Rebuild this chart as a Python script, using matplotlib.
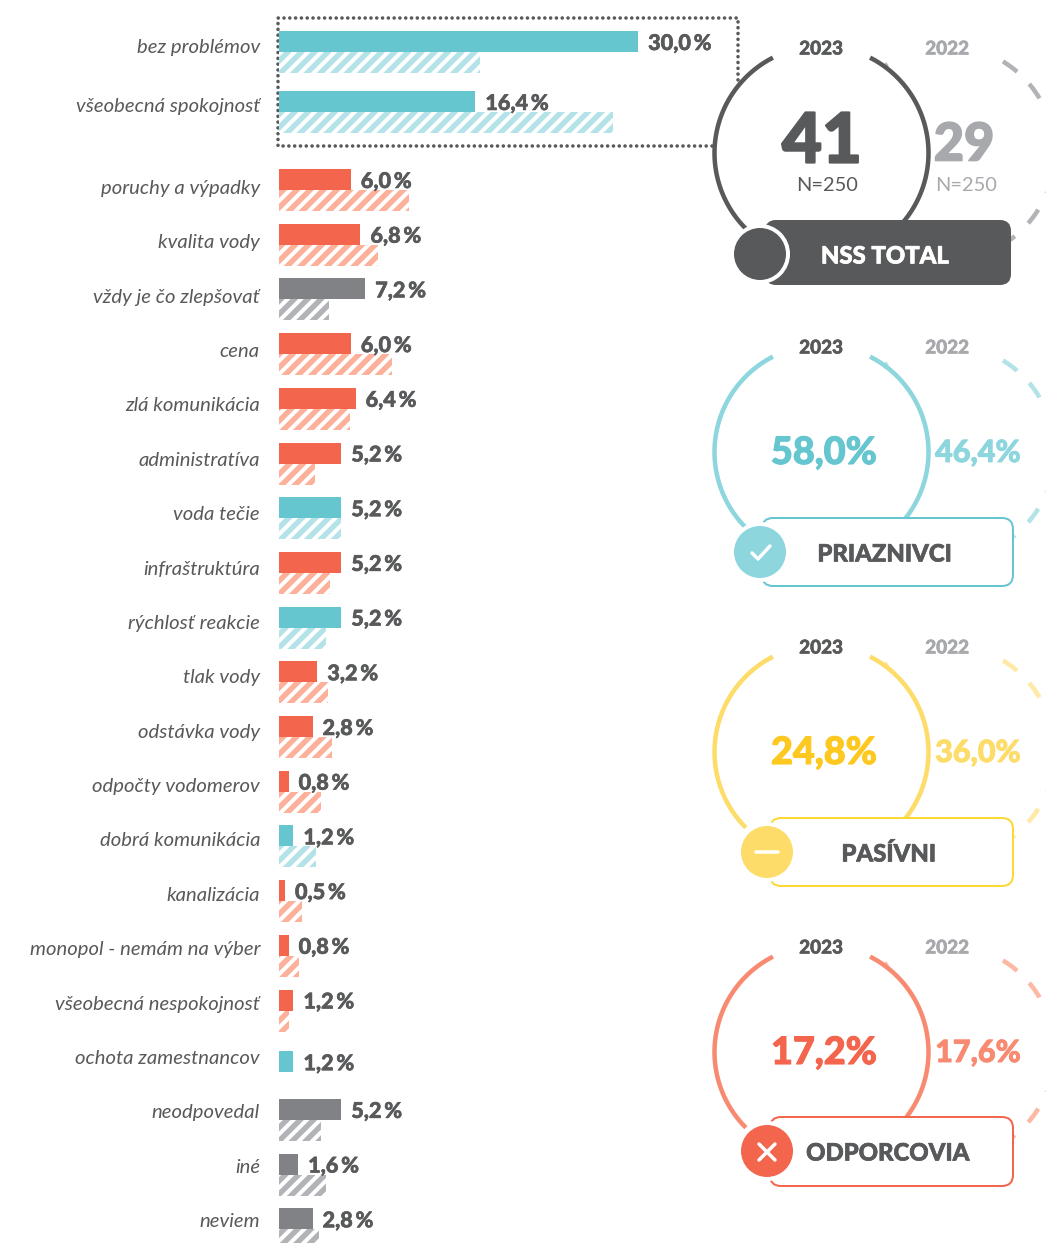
import numpy as np
import matplotlib
matplotlib.use('Agg')
import matplotlib.pyplot as plt
import matplotlib.patheffects as pe
from matplotlib.patches import Circle, FancyBboxPatch

# categories top to bottom, values in percent
categories = ['bez problémov', 'všeobecná spokojnosť', 'poruchy a výpadky', 'kvalita vody',
              'vždy je čo zlepšovať', 'cena', 'zlá komunikácia', 'administratíva', 'voda tečie',
              'infraštruktúra', 'rýchlosť reakcie', 'tlak vody', 'odstávka vody',
              'odpočty vodomerov', 'dobrá komunikácia', 'kanalizácia', 'monopol - nemám na výber',
              'všeobecná nespokojnosť', 'ochota zamestnancov', 'neodpovedal', 'iné', 'neviem']
values_2023 = [30.0, 16.4, 6.0, 6.8, 7.2, 6.0, 6.4, 5.2, 5.2, 5.2, 5.2, 3.2, 2.8, 0.8, 1.2, 0.5, 0.8,
               1.2, 1.2, 5.2, 1.6, 2.8]
values_2022 = [16.8, 27.9, 10.9, 8.3, 4.2, 9.4, 5.9, 3.0, 5.2, 4.3, 3.9, 4.1, 4.4, 3.5, 3.1, 1.9, 1.7,
               0.8, 0, 3.5, 3.9, 3.3]
groups = ['t', 't', 'r', 'r', 'g', 'r', 'r', 'r', 't', 'r', 't', 'r', 'r', 'r', 't', 'r', 'r',
          'r', 't', 'g', 'g', 'g']

panel_names = ['NSS TOTAL', 'PRIAZNIVCI', 'PASÍVNI', 'ODPORCOVIA']
panel_2023 = ['41', '58,0%', '24,8%', '17,2%']
panel_2022 = ['29', '46,4%', '36,0%', '17,6%']

W, H, DPI = 1046, 1243, 80
DARK = '#58595b'
solid = {'t': '#66c6d0', 'r': '#f4654e', 'g': '#808285'}
light = {'t': '#b3e3e8', 'r': '#fdb09a', 'g': '#b1b3b6'}


def px(p):
    return p * 72 / DPI


# thickens the bold text a little, Lato is lighter than the original font
def heavy(w):
    return [pe.withStroke(linewidth=w, foreground='none'), pe.Stroke(linewidth=w), pe.Normal()]


plt.rcParams['hatch.linewidth'] = 3.6

fig = plt.figure(figsize=(W / DPI, H / DPI), dpi=DPI)

# whole figure in pixel coordinates for the decoration
ax = fig.add_axes([0, 0, 1, 1])
ax.set_xlim(0, W)
ax.set_ylim(H, 0)
ax.axis('off')

# bars get their own axes, x in percent (11.97 px per percent, starts at x=279)
bar_w = W - 279
ax_bar = fig.add_axes([279 / W, 0, bar_w / W, 1])
ax_bar.set_xlim(0, bar_w / 11.97)
ax_bar.set_ylim(H, 0)
ax_bar.axis('off')
ax_bar.patch.set_alpha(0)

row_y = np.r_[52, 112, 190 + 54.7 * np.arange(20)]
label_y = np.r_[53, 112, 194 + 54.37 * np.arange(20)]

for i, name in enumerate(categories):
    y = row_y[i]
    if values_2022[i] == 0:
        y = y + 7
    ax_bar.barh(y - 10.5, values_2023[i], height=21, color=solid[groups[i]], linewidth=0)
    if values_2022[i] > 0:
        ax_bar.barh(y + 10.5, values_2022[i], height=21, color=light[groups[i]], edgecolor='white',
                    hatch='//', linewidth=0)
    val = f'{values_2023[i]:.1f}'.replace('.', ',')
    ax_bar.annotate(val + '\u2009%', (values_2023[i], y - 8.5), xytext=(px(10), 0), textcoords='offset points',
                    fontsize=19.5, family='Lato', weight='black', color=DARK, va='center', ha='left', zorder=5,
                    path_effects=[pe.Stroke(linewidth=0.5, foreground=DARK), pe.Normal()])
    ax.text(260, label_y[i], name, fontsize=18.2, family='Lato', style='italic', color=DARK,
            ha='right', va='baseline')

# dotted box round the first two rows
dots = dict(color=DARK, lw=px(3.6), dash_capstyle='round', linestyle=(0, (0.01, 1.6)))
ax.plot([712, 278, 278, 738, 738], [146, 146, 18, 18, 82], **dots)


def arc(cx, cy, a0, a1, **kw):
    t = np.radians(np.linspace(a0, a1, 60))
    ax.plot(cx + 107 * np.cos(t), cy - 107 * np.sin(t), **kw)


centers = [153, 452, 752, 1052]
label_ys = [49, 348, 648, 948]
ring = ['#58595b', '#8dd6de', '#fedc6a', '#f98a72']
ring_22 = ['#b1b3b6', '#b3e3e8', '#feeaa6', '#fdb8a4']
big_col = ['#58595b', '#66c6d0', '#fdc820', '#f4654e']
small_col = ['#a7a9ac', '#8dd6de', '#fedc6a', '#f98a72']
pill_edge = ['#58595b', '#66c6d0', '#fdd835', '#f4654e']
pill_left = [765, 762, 770, 770]
pill_right = [1011, 1013, 1013, 1013]
pill_top = [220, 518, 818, 1117]
pill_h = [65, 68, 68, 69]
circle_x = [760, 760, 767, 767]
circle_col = ['#58595b', '#8dd6de', '#fedc6a', '#f4654e']
name_x = [885, 885, 889, 888]

dash_angles = [(124, 127), (58.8, 49.4), (40.2, 30.7), (21.5, 12), (-13, -22), (-32, -41), (-51, -60)]

for k in range(4):
    cy = centers[k]
    for a0, a1 in dash_angles:
        arc(947.5, cy, a0, a1, color=ring_22[k], lw=px(4.5), solid_capstyle='butt', zorder=1)
    arc(821.5, cy, 117, 225, color=ring[k], lw=px(4.5), solid_capstyle='butt', zorder=2)
    arc(821.5, cy, -40, 63, color=ring[k], lw=px(4.5), solid_capstyle='butt', zorder=2)

    ax.text(821, label_ys[k], '2023', fontsize=17, family='Lato', weight='black', color=DARK,
            ha='center', va='center', path_effects=[pe.Stroke(linewidth=0.5, foreground=DARK), pe.Normal()])
    ax.text(947, label_ys[k], '2022', fontsize=17, family='Lato', weight='black', color='#a7a9ac',
            ha='center', va='center', path_effects=[pe.Stroke(linewidth=0.5, foreground='#a7a9ac'), pe.Normal()])

    # pill with the group name
    left, top, h = pill_left[k], pill_top[k], pill_h[k]
    right = pill_right[k]
    face = DARK if k == 0 else 'white'
    edge_w = 0 if k == 0 else px(2)
    ax.add_patch(FancyBboxPatch((left + 11, top + 11), right - left - 22, h - 22,
                                boxstyle='round,pad=11,rounding_size=11', fc=face, ec=pill_edge[k],
                                lw=edge_w, zorder=3))
    ax.add_patch(Circle((circle_x[k], top + 34), 30, fc='white', ec='none', zorder=4))
    ax.add_patch(Circle((circle_x[k], top + 34), 26, fc=circle_col[k], ec='none', zorder=5))
    name_col = 'white' if k == 0 else DARK
    ax.text(name_x[k], top + 36, panel_names[k], fontsize=21.5, family='Lato', weight='black',
            color=name_col, ha='center', va='center', zorder=6,
            path_effects=[pe.Stroke(linewidth=0.6, foreground=name_col), pe.Normal()])

# numbers in the first circle are bigger and have N under them
ax.text(822, 143, panel_2023[0], fontsize=62, family='Lato', weight='black', color=big_col[0],
        ha='center', va='center', path_effects=[pe.Stroke(linewidth=2, foreground=big_col[0]), pe.Normal()])
ax.text(964, 146, panel_2022[0], fontsize=47, family='Lato', weight='black', color=small_col[0],
        ha='center', va='center', path_effects=[pe.Stroke(linewidth=1.5, foreground=small_col[0]), pe.Normal()])
ax.text(827, 185, 'N=250', fontsize=18, family='Lato', color=DARK, ha='center', va='center')
ax.text(966, 185, 'N=250', fontsize=18, family='Lato', color='#a7a9ac', ha='center', va='center')

for k in range(1, 4):
    ax.text(824, centers[k] + 1, panel_2023[k], fontsize=34, family='Lato', weight='black', color=big_col[k],
            ha='center', va='center', path_effects=[pe.Stroke(linewidth=1, foreground=big_col[k]), pe.Normal()])
    ax.text(978, centers[k] + 1, panel_2022[k], fontsize=27.5, family='Lato', weight='black', color=small_col[k],
            ha='center', va='center', path_effects=[pe.Stroke(linewidth=0.8, foreground=small_col[k]), pe.Normal()])

# icons in the small circles
white = dict(color='white', lw=px(3.5), solid_capstyle='round', solid_joinstyle='round', zorder=7)
ax.plot([752, 758, 770], [553, 559, 546], **white)
ax.plot([756, 778], [852, 852], **white)
ax.plot([759, 775], [1144, 1160], **white)
ax.plot([759, 775], [1160, 1144], **white)

fig.savefig('out.png', dpi=DPI)
